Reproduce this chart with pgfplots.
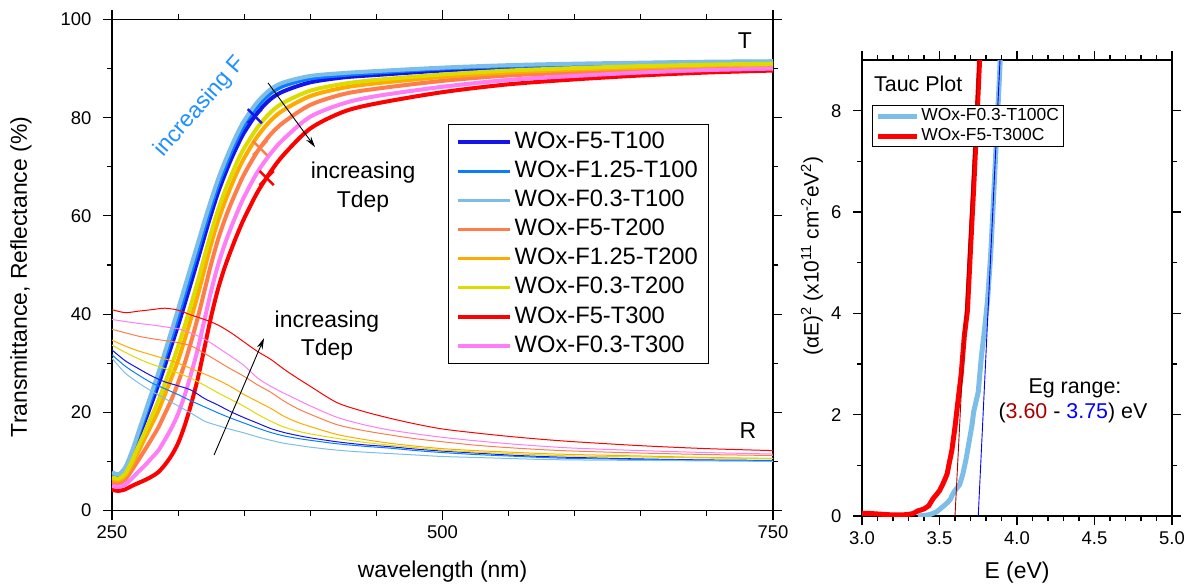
\documentclass[border=0pt]{standalone}
\usepackage{fontspec}
\setmainfont{Liberation Sans}
\usepackage{pgfplots}
\usepackage{pgfplotstable}
\pgfplotsset{compat=1.18}
\usetikzlibrary{arrows.meta}

\definecolor{cB}{RGB}{20,20,235}
\definecolor{cMB}{RGB}{10,125,255}
\definecolor{cLB}{RGB}{125,190,232}
\definecolor{cC}{RGB}{255,125,75}
\definecolor{cO}{RGB}{255,170,0}
\definecolor{cY}{RGB}{220,220,0}
\definecolor{cR}{RGB}{255,0,0}
\definecolor{cP}{RGB}{255,125,245}
\definecolor{cF}{RGB}{30,144,255}
\definecolor{dred}{RGB}{170,0,0}
\definecolor{pblue}{RGB}{0,0,255}

\pgfplotstableread{
lam LB MB B Y O C P R
250 7.8 7.6 7.4 6.8 6.4 5.8 5.0 4.2
255 7.4 7.2 7.0 6.5 6.1 5.5 4.8 4.0
260 8.8 8.6 8.3 7.5 7.1 6.3 5.3 4.3
265 12.0 11.7 11.2 10.0 9.3 8.2 6.5 5.0
270 16.0 15.5 14.8 13.1 12.0 10.3 7.9 5.6
275 20.0 19.3 18.3 16.1 14.8 12.4 9.2 6.2
280 24.0 23.1 21.9 19.2 17.5 14.6 10.7 6.9
285 28.0 27.0 25.6 22.3 20.3 16.9 12.2 7.8
290 32.3 31.2 29.5 25.9 23.6 19.7 14.4 9.3
295 36.6 35.3 33.6 29.5 27.0 22.6 16.8 11.2
300 41.0 39.6 37.7 33.4 30.6 26.0 19.7 13.7
305 45.5 44.1 42.1 37.6 34.8 30.0 23.5 17.3
310 50.0 48.6 46.6 42.1 39.3 34.5 28.0 21.8
315 54.5 53.1 51.2 46.8 44.0 39.4 33.0 27.0
320 59.0 57.7 55.9 51.8 49.2 44.8 38.9 33.2
325 63.3 62.1 60.4 56.6 54.3 50.2 44.7 39.5
330 67.3 66.2 64.6 61.0 58.8 55.0 49.8 44.9
335 70.8 69.7 68.2 64.8 62.6 59.0 54.0 49.3
340 74.0 73.0 71.5 68.1 66.0 62.5 57.6 53.0
345 76.9 75.9 74.4 71.2 69.1 65.6 60.9 56.4
350 79.4 78.4 77.0 73.8 71.8 68.5 63.9 59.5
360 83.2 82.3 81.0 78.0 76.2 73.1 68.9 64.8
370 85.8 85.0 83.8 81.1 79.4 76.6 72.7 69.0
380 87.2 86.5 85.4 83.1 81.6 79.1 75.7 72.5
400 88.5 88.0 87.2 85.5 84.4 82.6 80.2 77.8
425 89.1 88.7 88.2 86.9 86.1 84.8 82.9 81.2
450 89.5 89.2 88.7 87.7 87.0 85.9 84.4 82.9
500 90.2 90.0 89.6 88.8 88.3 87.5 86.3 85.2
550 90.7 90.5 90.2 89.6 89.2 88.6 87.7 86.8
600 91.0 90.8 90.6 90.1 89.8 89.2 88.5 87.8
650 91.2 91.1 90.9 90.5 90.2 89.8 89.2 88.6
700 91.4 91.3 91.1 90.8 90.6 90.2 89.7 89.2
750 91.5 91.4 91.3 91.0 90.8 90.5 90.0 89.6
}\Tdata

\pgfplotstableread{
lam LB MB B Y O C P R
250 31.0 31.7 32.7 33.7 34.7 36.9 38.9 40.9
260 28.0 29.4 30.5 32.2 33.5 36.2 38.5 40.3
270 26.0 27.6 28.9 30.9 32.5 35.5 38.1 40.6
280 24.3 26.0 27.4 29.8 31.7 35.0 37.8 40.9
290 22.8 24.8 26.2 28.9 30.9 34.6 37.4 41.2
300 21.3 23.6 25.4 28.0 30.0 34.2 37.0 40.8
310 19.8 22.3 24.5 26.9 28.9 33.5 36.1 39.8
320 18.2 21.1 22.8 25.5 27.8 32.0 34.9 38.9
330 17.3 19.9 21.5 24.0 26.6 30.4 33.2 37.8
340 16.5 18.8 20.1 22.6 25.2 28.8 31.4 36.2
350 15.8 17.8 18.9 21.2 23.6 27.3 29.5 34.3
360 15.0 16.8 17.8 19.6 22.2 25.6 27.0 32.4
370 14.3 15.9 16.7 18.2 20.8 24.1 25.3 30.8
380 13.7 15.2 15.9 17.0 19.2 22.3 23.9 28.8
390 13.3 14.7 15.3 16.2 18.0 20.8 22.6 27.0
400 12.9 14.3 14.8 15.6 17.1 19.6 21.3 25.3
420 12.3 13.6 14.0 14.7 15.5 17.5 19.0 22.0
440 11.9 13.1 13.4 13.9 14.5 16.3 17.5 20.2
460 11.6 12.7 13.0 13.3 13.7 15.4 16.4 18.8
480 11.3 12.2 12.5 12.8 13.1 14.6 15.6 17.6
500 11.0 11.8 12.1 12.3 12.6 14.0 14.9 16.6
525 10.8 11.4 11.7 11.9 12.2 13.3 14.2 15.8
550 10.6 11.1 11.3 11.6 11.9 12.8 13.6 15.1
575 10.4 10.8 11.0 11.3 11.6 12.4 13.1 14.5
600 10.3 10.6 10.8 11.1 11.4 12.1 12.7 14.0
650 10.2 10.4 10.5 10.9 11.1 11.7 12.2 13.2
700 10.1 10.2 10.3 10.7 10.8 11.4 11.8 12.6
750 10.0 10.1 10.2 10.6 10.6 11.2 11.5 12.2
}\Rdata

\pgfplotstableread{
E V
3.00 0.05
3.05 0.05
3.10 0.04
3.15 0.03
3.20 0.02
3.25 0.02
3.30 0.03
3.33 0.05
3.36 0.10
3.40 0.14
3.43 0.20
3.46 0.35
3.48 0.42
3.50 0.50
3.52 0.62
3.54 0.76
3.55 0.84
3.56 1.00
3.58 1.30
3.60 1.76
3.62 2.29
3.64 2.80
3.66 3.55
3.68 4.05
3.70 5.27
3.72 6.45
3.74 7.74
3.76 9.10
}\TaucRed

\pgfplotstableread{
E V
3.36 0.00
3.40 0.01
3.44 0.03
3.48 0.08
3.52 0.18
3.55 0.26
3.57 0.33
3.59 0.46
3.61 0.54
3.63 0.62
3.65 0.82
3.67 1.10
3.69 1.45
3.71 1.80
3.72 2.05
3.735 2.25
3.75 2.45
3.76 2.80
3.77 3.14
3.79 3.67
3.81 4.26
3.83 5.15
3.85 6.35
3.87 7.60
3.895 9.20
}\TaucBlue

\pgfplotsset{
  myaxis/.style={
    scale only axis,
    axis line style={line width=1.2bp},
    every tick/.style={black, line width=1.1bp},
    tick align=outside,
    major tick length=9bp,
    minor tick length=5bp,
    tick label style={font=\fontsize{18.5}{22}\selectfont},
    yticklabel style={xshift=-8bp},
    xticklabel style={yshift=-3bp},
    label style={font=\fontsize{23}{27}\selectfont},
    /pgf/number format/assume math mode=true,
  },
}

\begin{document}
\begin{tikzpicture}
\begin{axis}[myaxis,
  at={(0bp,0bp)}, anchor=south west,
  width=661bp, height=491bp,
  xmin=250, xmax=750, ymin=0, ymax=100,
  xtick={250,500,750}, minor x tick num=4,
  ytick={0,20,40,60,80,100}, minor y tick num=1,
  xlabel={wavelength (nm)},
  ylabel={Transmittance, Reflectance (\%)},
  xlabel style={at={(axis description cs:0.5,-0.1253)}, anchor=center},
  ylabel style={at={(axis description cs:-0.1377,0.4756)}, anchor=center},
  legend style={at={(0.508,0.787)}, anchor=north west, draw=black, line width=0.8bp,
    font=\fontsize{23.8}{28}\selectfont, inner xsep=8bp, inner ysep=6.5bp,
    nodes={inner xsep=3bp, inner ysep=0bp, text height=17.5bp, text depth=5bp},
    row sep=6.6bp},
  legend cell align=left,
  legend image code/.code={\draw[#1, line width=3.5bp] (0bp,0bp) -- (52bp,0bp);},
]
\addplot[cB, line width=4bp, smooth] table[x=lam, y=B] {\Tdata};
\addlegendentry{WOx-F5-T100}
\addplot[cMB, line width=4bp, smooth] table[x=lam, y=MB] {\Tdata};
\addlegendentry{WOx-F1.25-T100}
\addplot[cLB, line width=4bp, smooth] table[x=lam, y=LB] {\Tdata};
\addlegendentry{WOx-F0.3-T100}
\addplot[cC, line width=4bp, smooth] table[x=lam, y=C] {\Tdata};
\addlegendentry{WOx-F5-T200}
\addplot[cO, line width=4bp, smooth] table[x=lam, y=O] {\Tdata};
\addlegendentry{WOx-F1.25-T200}
\addplot[cY, line width=4bp, smooth] table[x=lam, y=Y] {\Tdata};
\addlegendentry{WOx-F0.3-T200}
\addplot[cR, line width=4bp, smooth] table[x=lam, y=R] {\Tdata};
\addlegendentry{WOx-F5-T300}
\addplot[cP, line width=4bp, smooth] table[x=lam, y=P] {\Tdata};
\addlegendentry{WOx-F0.3-T300}

\addplot[cB, line width=1bp, smooth, forget plot] table[x=lam, y=B] {\Rdata};
\addplot[cMB, line width=1bp, smooth, forget plot] table[x=lam, y=MB] {\Rdata};
\addplot[cLB, line width=1bp, smooth, forget plot] table[x=lam, y=LB] {\Rdata};
\addplot[cC, line width=1bp, smooth, forget plot] table[x=lam, y=C] {\Rdata};
\addplot[cO, line width=1bp, smooth, forget plot] table[x=lam, y=O] {\Rdata};
\addplot[cY, line width=1bp, smooth, forget plot] table[x=lam, y=Y] {\Rdata};
\addplot[cR, line width=1bp, smooth, forget plot] table[x=lam, y=R] {\Rdata};
\addplot[cP, line width=1bp, smooth, forget plot] table[x=lam, y=P] {\Rdata};

\addplot[cB, only marks, mark=x, mark size=10bp, mark options={line width=2.5bp}, forget plot] coordinates {(358,80.3)};
\addplot[cC, only marks, mark=x, mark size=10bp, mark options={line width=2.5bp}, forget plot] coordinates {(362,73.8)};
\addplot[cR, only marks, mark=x, mark size=10bp, mark options={line width=2.5bp}, forget plot] coordinates {(367,67.7)};

\draw[line width=0.9bp, -{Stealth[length=11bp, width=6bp]}] (axis cs:368,87.1) -- (axis cs:403.6,74.0);
\draw[line width=0.9bp, -{Stealth[length=11bp, width=6bp]}] (axis cs:327.2,11.3) -- (axis cs:365,35.1);

\node[rotate=48.7, text=cF, inner sep=0pt, font=\fontsize{23}{27}\selectfont] at (axis cs:316.6,82.2) {increasing F};
\node[align=center, inner sep=0pt, font=\fontsize{23}{29}\selectfont] at (axis cs:439.9,65.9) {increasing\\Tdep};
\node[align=center, inner sep=0pt, font=\fontsize{23}{28}\selectfont] at (axis cs:412.6,35.7) {increasing\\Tdep};
\node[inner sep=0pt, font=\fontsize{23}{27}\selectfont] at (axis cs:728.8,95.8) {T};
\node[inner sep=0pt, font=\fontsize{23}{27}\selectfont] at (axis cs:731,16.2) {R};
\end{axis}

\begin{axis}[myaxis,
  at={(750bp,-5.5bp)}, anchor=south west,
  width=310bp, height=456bp,
  xmin=3, xmax=5, ymin=0, ymax=9,
  xtick={3,3.5,4,4.5,5}, minor x tick num=4,
  ytick={0,2,4,6,8}, minor y tick num=1,
  xticklabel style={/pgf/number format/.cd, fixed, fixed zerofill, precision=1},
  xlabel={E (eV)},
  ylabel={(αE)\textsuperscript{2} (x10\textsuperscript{11} cm\textsuperscript{-2}eV\textsuperscript{2})},
  xlabel style={at={(axis description cs:0.5,-0.1239)}, anchor=center},
  ylabel style={at={(axis description cs:-0.1613,0.57)}, anchor=center, font=\fontsize{21}{25}\selectfont},
  legend style={at={(0.032,0.901)}, anchor=north west, draw=black, line width=0.8bp,
    font=\fontsize{17.5}{20}\selectfont, inner xsep=3bp, inner ysep=2bp,
    nodes={inner xsep=2bp, inner ysep=0bp, text height=13bp, text depth=4bp},
    row sep=3bp},
  legend cell align=left,
  legend image code/.code={\draw[#1] (0bp,0bp) -- (39bp,0bp);},
]
\addplot[cLB, line width=5bp] table[x=E, y=V] {\TaucBlue};
\addlegendentry{WOx-F0.3-T100C}
\addplot[cR, line width=5bp] table[x=E, y=V] {\TaucRed};
\addlegendentry{WOx-F5-T300C}
\addplot[pblue, line width=0.9bp, forget plot] coordinates {(3.75,0) (3.895,9.3)};
\addplot[dred, line width=0.9bp, forget plot] coordinates {(3.60,0) (3.755,9.3)};

\node[anchor=west, inner sep=0pt, font=\fontsize{21.5}{25}\selectfont] at (axis cs:3.077,8.52) {Tauc Plot};
\node[inner sep=0pt, font=\fontsize{21.5}{25}\selectfont] at (axis cs:4.374,2.52) {Eg range:};
\node[inner sep=0pt, font=\fontsize{21.5}{25}\selectfont] at (axis cs:4.361,2.03) {(\textcolor{dred}{3.60} - \textcolor{pblue}{3.75}) eV};
\end{axis}

\pgfresetboundingbox
\path[use as bounding box] (-112bp,-77.5bp) rectangle (1075bp,510.5bp);
\end{tikzpicture}
\end{document}
